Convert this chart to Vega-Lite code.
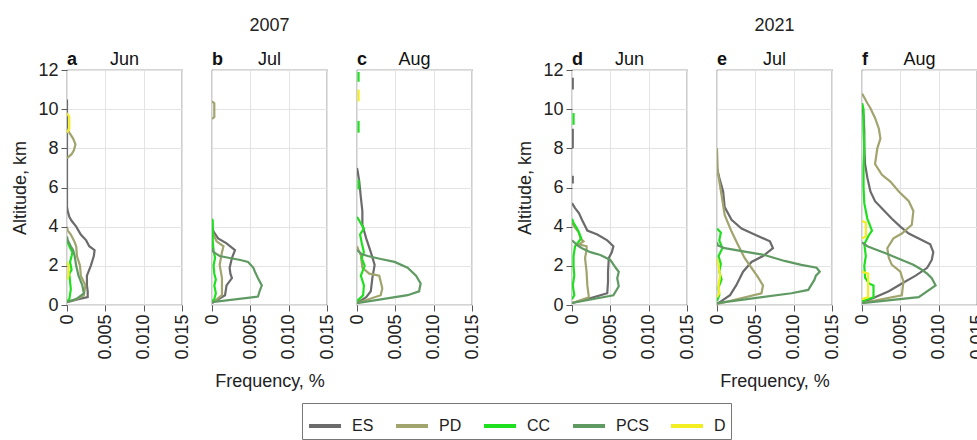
{
  "$schema": "https://vega.github.io/schema/vega-lite/v6.json",
  "padding": {"left": 11, "top": 16, "right": 0, "bottom": 0},
  "datasets": {
    "prof": [
      {"p":"a","c":"ES","s":1,"h":0.15,"f":0},{"p":"a","c":"ES","s":1,"h":0.3,"f":0.0015},{"p":"a","c":"ES","s":1,"h":0.4,"f":0.0027},{"p":"a","c":"ES","s":1,"h":0.7,"f":0.0027},{"p":"a","c":"ES","s":1,"h":1.0,"f":0.0026},{"p":"a","c":"ES","s":1,"h":1.5,"f":0.0026},{"p":"a","c":"ES","s":1,"h":2.0,"f":0.0031},{"p":"a","c":"ES","s":1,"h":2.5,"f":0.0035},{"p":"a","c":"ES","s":1,"h":2.8,"f":0.0036},{"p":"a","c":"ES","s":1,"h":3.0,"f":0.0029},{"p":"a","c":"ES","s":1,"h":3.3,"f":0.0025},{"p":"a","c":"ES","s":1,"h":3.6,"f":0.0018},{"p":"a","c":"ES","s":1,"h":4.0,"f":0.0012},{"p":"a","c":"ES","s":1,"h":4.3,"f":0.0006},{"p":"a","c":"ES","s":1,"h":4.5,"f":0.0003},{"p":"a","c":"ES","s":1,"h":4.8,"f":0.0001},{"p":"a","c":"ES","s":1,"h":5.0,"f":0},{"p":"a","c":"ES","s":1,"h":10.5,"f":0},
      {"p":"a","c":"PD","s":1,"h":0.15,"f":0},{"p":"a","c":"PD","s":1,"h":0.3,"f":0.0012},{"p":"a","c":"PD","s":1,"h":0.5,"f":0.0022},{"p":"a","c":"PD","s":1,"h":1.0,"f":0.0024},{"p":"a","c":"PD","s":1,"h":1.5,"f":0.0018},{"p":"a","c":"PD","s":1,"h":2.0,"f":0.0017},{"p":"a","c":"PD","s":1,"h":2.5,"f":0.0013},{"p":"a","c":"PD","s":1,"h":3.0,"f":0.0012},{"p":"a","c":"PD","s":1,"h":3.3,"f":0.0009},{"p":"a","c":"PD","s":1,"h":3.6,"f":0.0005},{"p":"a","c":"PD","s":1,"h":3.8,"f":0.0001},{"p":"a","c":"PD","s":1,"h":4.0,"f":0},
      {"p":"a","c":"PD","s":2,"h":7.5,"f":0},{"p":"a","c":"PD","s":2,"h":7.7,"f":0.0006},{"p":"a","c":"PD","s":2,"h":7.9,"f":0.0009},{"p":"a","c":"PD","s":2,"h":8.2,"f":0.0011},{"p":"a","c":"PD","s":2,"h":8.5,"f":0.0008},{"p":"a","c":"PD","s":2,"h":8.8,"f":0.0003},{"p":"a","c":"PD","s":2,"h":9.0,"f":0},
      {"p":"a","c":"CC","s":1,"h":0.2,"f":0},{"p":"a","c":"CC","s":1,"h":0.3,"f":0.0003},{"p":"a","c":"CC","s":1,"h":0.8,"f":0.0005},{"p":"a","c":"CC","s":1,"h":1.2,"f":0.0004},{"p":"a","c":"CC","s":1,"h":1.6,"f":0.0003},{"p":"a","c":"CC","s":1,"h":1.8,"f":0.0006},{"p":"a","c":"CC","s":1,"h":2.2,"f":0.0004},{"p":"a","c":"CC","s":1,"h":2.5,"f":0.0006},{"p":"a","c":"CC","s":1,"h":2.7,"f":0.0007},{"p":"a","c":"CC","s":1,"h":3.0,"f":0.0003},{"p":"a","c":"CC","s":1,"h":3.3,"f":0},
      {"p":"a","c":"PCS","s":1,"h":0.15,"f":0},{"p":"a","c":"PCS","s":1,"h":0.3,"f":0.0012},{"p":"a","c":"PCS","s":1,"h":0.6,"f":0.0022},{"p":"a","c":"PCS","s":1,"h":1.0,"f":0.002},{"p":"a","c":"PCS","s":1,"h":1.5,"f":0.0015},{"p":"a","c":"PCS","s":1,"h":2.0,"f":0.0012},{"p":"a","c":"PCS","s":1,"h":2.5,"f":0.001},{"p":"a","c":"PCS","s":1,"h":2.8,"f":0.0008},{"p":"a","c":"PCS","s":1,"h":3.0,"f":0.0005},{"p":"a","c":"PCS","s":1,"h":3.3,"f":0.0001},{"p":"a","c":"PCS","s":1,"h":3.5,"f":0},
      {"p":"a","c":"D","s":1,"h":1.3,"f":0},{"p":"a","c":"D","s":1,"h":1.5,"f":0.0002},{"p":"a","c":"D","s":1,"h":2.0,"f":0.0002},{"p":"a","c":"D","s":1,"h":2.2,"f":0},
      {"p":"a","c":"D","s":2,"h":8.8,"f":0},{"p":"a","c":"D","s":2,"h":9.0,"f":0.0003},{"p":"a","c":"D","s":2,"h":9.6,"f":0.0003},{"p":"a","c":"D","s":2,"h":9.8,"f":0},

      {"p":"b","c":"ES","s":1,"h":0.1,"f":0},{"p":"b","c":"ES","s":1,"h":0.5,"f":0.0017},{"p":"b","c":"ES","s":1,"h":1.0,"f":0.0019},{"p":"b","c":"ES","s":1,"h":1.37,"f":0.0026},{"p":"b","c":"ES","s":1,"h":1.6,"f":0.0024},{"p":"b","c":"ES","s":1,"h":1.9,"f":0.0023},{"p":"b","c":"ES","s":1,"h":2.4,"f":0.0026},{"p":"b","c":"ES","s":1,"h":2.8,"f":0.003},{"p":"b","c":"ES","s":1,"h":3.15,"f":0.0019},{"p":"b","c":"ES","s":1,"h":3.4,"f":0.0008},{"p":"b","c":"ES","s":1,"h":3.75,"f":0.0002},{"p":"b","c":"ES","s":1,"h":4.0,"f":0},
      {"p":"b","c":"PD","s":1,"h":0.1,"f":0},{"p":"b","c":"PD","s":1,"h":0.5,"f":0.0013},{"p":"b","c":"PD","s":1,"h":1.0,"f":0.0013},{"p":"b","c":"PD","s":1,"h":1.37,"f":0.0013},{"p":"b","c":"PD","s":1,"h":2.05,"f":0.001},{"p":"b","c":"PD","s":1,"h":2.7,"f":0.0013},{"p":"b","c":"PD","s":1,"h":3.0,"f":0.0015},{"p":"b","c":"PD","s":1,"h":3.25,"f":0.0006},{"p":"b","c":"PD","s":1,"h":3.6,"f":0.0002},{"p":"b","c":"PD","s":1,"h":3.8,"f":0},
      {"p":"b","c":"PD","s":2,"h":9.5,"f":0},{"p":"b","c":"PD","s":2,"h":9.6,"f":0.0003},{"p":"b","c":"PD","s":2,"h":10.3,"f":0.0003},{"p":"b","c":"PD","s":2,"h":10.4,"f":0},
      {"p":"b","c":"CC","s":1,"h":0.2,"f":0},{"p":"b","c":"CC","s":1,"h":0.3,"f":0.0003},{"p":"b","c":"CC","s":1,"h":0.6,"f":0.0005},{"p":"b","c":"CC","s":1,"h":1.0,"f":0.0003},{"p":"b","c":"CC","s":1,"h":1.3,"f":0.0005},{"p":"b","c":"CC","s":1,"h":1.6,"f":0.0003},{"p":"b","c":"CC","s":1,"h":2.0,"f":0.0002},{"p":"b","c":"CC","s":1,"h":2.4,"f":0.0004},{"p":"b","c":"CC","s":1,"h":2.8,"f":0.0002},{"p":"b","c":"CC","s":1,"h":3.2,"f":0.0001},{"p":"b","c":"CC","s":1,"h":4.3,"f":0.0001},{"p":"b","c":"CC","s":1,"h":4.4,"f":0},
      {"p":"b","c":"PCS","s":1,"h":0.15,"f":0},{"p":"b","c":"PCS","s":1,"h":0.43,"f":0.006},{"p":"b","c":"PCS","s":1,"h":0.7,"f":0.0062},{"p":"b","c":"PCS","s":1,"h":1.0,"f":0.0065},{"p":"b","c":"PCS","s":1,"h":1.37,"f":0.006},{"p":"b","c":"PCS","s":1,"h":1.7,"f":0.0056},{"p":"b","c":"PCS","s":1,"h":1.9,"f":0.0054},{"p":"b","c":"PCS","s":1,"h":2.2,"f":0.0047},{"p":"b","c":"PCS","s":1,"h":2.3,"f":0.0037},{"p":"b","c":"PCS","s":1,"h":2.4,"f":0.0023},{"p":"b","c":"PCS","s":1,"h":2.5,"f":0.001},{"p":"b","c":"PCS","s":1,"h":2.7,"f":0.0002},{"p":"b","c":"PCS","s":1,"h":2.9,"f":0},

      {"p":"c","c":"ES","s":1,"h":0.1,"f":0},{"p":"c","c":"ES","s":1,"h":0.4,"f":0.0012},{"p":"c","c":"ES","s":1,"h":0.7,"f":0.0018},{"p":"c","c":"ES","s":1,"h":1.37,"f":0.002},{"p":"c","c":"ES","s":1,"h":2.05,"f":0.0023},{"p":"c","c":"ES","s":1,"h":2.7,"f":0.0018},{"p":"c","c":"ES","s":1,"h":3.4,"f":0.0012},{"p":"c","c":"ES","s":1,"h":4.1,"f":0.0007},{"p":"c","c":"ES","s":1,"h":4.8,"f":0.0007},{"p":"c","c":"ES","s":1,"h":5.5,"f":0.0005},{"p":"c","c":"ES","s":1,"h":6.3,"f":0.0003},{"p":"c","c":"ES","s":1,"h":6.8,"f":0.0001},{"p":"c","c":"ES","s":1,"h":7.0,"f":0},
      {"p":"c","c":"PD","s":1,"h":0.1,"f":0},{"p":"c","c":"PD","s":1,"h":0.5,"f":0.0031},{"p":"c","c":"PD","s":1,"h":0.85,"f":0.0033},{"p":"c","c":"PD","s":1,"h":1.5,"f":0.0029},{"p":"c","c":"PD","s":1,"h":1.6,"f":0.0016},{"p":"c","c":"PD","s":1,"h":1.9,"f":0.0007},{"p":"c","c":"PD","s":1,"h":2.55,"f":0.0005},{"p":"c","c":"PD","s":1,"h":2.8,"f":0.0002},{"p":"c","c":"PD","s":1,"h":3.0,"f":0},
      {"p":"c","c":"CC","s":1,"h":0.2,"f":0},{"p":"c","c":"CC","s":1,"h":0.5,"f":0.0008},{"p":"c","c":"CC","s":1,"h":1.0,"f":0.0009},{"p":"c","c":"CC","s":1,"h":1.5,"f":0.0005},{"p":"c","c":"CC","s":1,"h":2.0,"f":0.001},{"p":"c","c":"CC","s":1,"h":2.4,"f":0.0006},{"p":"c","c":"CC","s":1,"h":2.7,"f":0.0009},{"p":"c","c":"CC","s":1,"h":3.2,"f":0.0006},{"p":"c","c":"CC","s":1,"h":3.6,"f":0.0004},{"p":"c","c":"CC","s":1,"h":3.9,"f":0.0009},{"p":"c","c":"CC","s":1,"h":4.3,"f":0.0003},{"p":"c","c":"CC","s":1,"h":4.5,"f":0},
      {"p":"c","c":"CC","s":2,"h":5.9,"f":0.0002},{"p":"c","c":"CC","s":2,"h":6.4,"f":0.0002},
      {"p":"c","c":"CC","s":3,"h":8.8,"f":0.0002},{"p":"c","c":"CC","s":3,"h":9.4,"f":0.0002},
      {"p":"c","c":"CC","s":4,"h":11.4,"f":0.0002},{"p":"c","c":"CC","s":4,"h":11.9,"f":0.0002},
      {"p":"c","c":"PCS","s":1,"h":0.1,"f":0},{"p":"c","c":"PCS","s":1,"h":0.5,"f":0.0066},{"p":"c","c":"PCS","s":1,"h":0.7,"f":0.0081},{"p":"c","c":"PCS","s":1,"h":1.1,"f":0.0083},{"p":"c","c":"PCS","s":1,"h":1.5,"f":0.0077},{"p":"c","c":"PCS","s":1,"h":1.9,"f":0.0066},{"p":"c","c":"PCS","s":1,"h":2.2,"f":0.0049},{"p":"c","c":"PCS","s":1,"h":2.35,"f":0.0031},{"p":"c","c":"PCS","s":1,"h":2.5,"f":0.0014},{"p":"c","c":"PCS","s":1,"h":2.6,"f":0.0006},{"p":"c","c":"PCS","s":1,"h":2.8,"f":0},
      {"p":"c","c":"D","s":1,"h":10.4,"f":0.0002},{"p":"c","c":"D","s":1,"h":11.0,"f":0.0002},

      {"p":"d","c":"ES","s":1,"h":0.1,"f":0},{"p":"d","c":"ES","s":1,"h":0.3,"f":0.002},{"p":"d","c":"ES","s":1,"h":0.6,"f":0.0046},{"p":"d","c":"ES","s":1,"h":1.2,"f":0.0047},{"p":"d","c":"ES","s":1,"h":1.7,"f":0.0047},{"p":"d","c":"ES","s":1,"h":2.4,"f":0.0048},{"p":"d","c":"ES","s":1,"h":2.7,"f":0.0052},{"p":"d","c":"ES","s":1,"h":3.0,"f":0.0054},{"p":"d","c":"ES","s":1,"h":3.3,"f":0.0046},{"p":"d","c":"ES","s":1,"h":3.6,"f":0.0033},{"p":"d","c":"ES","s":1,"h":3.8,"f":0.002},{"p":"d","c":"ES","s":1,"h":4.35,"f":0.0013},{"p":"d","c":"ES","s":1,"h":4.7,"f":0.0009},{"p":"d","c":"ES","s":1,"h":4.95,"f":0.0004},{"p":"d","c":"ES","s":1,"h":5.2,"f":0},
      {"p":"d","c":"ES","s":2,"h":6.2,"f":0.0001},{"p":"d","c":"ES","s":2,"h":6.6,"f":0.0001},
      {"p":"d","c":"ES","s":3,"h":8.0,"f":0.0001},{"p":"d","c":"ES","s":3,"h":9.0,"f":0.0001},
      {"p":"d","c":"ES","s":4,"h":11.0,"f":0.0001},{"p":"d","c":"ES","s":4,"h":11.6,"f":0.0001},
      {"p":"d","c":"PD","s":1,"h":0.1,"f":0},{"p":"d","c":"PD","s":1,"h":0.4,"f":0.0022},{"p":"d","c":"PD","s":1,"h":1.0,"f":0.002},{"p":"d","c":"PD","s":1,"h":1.7,"f":0.0019},{"p":"d","c":"PD","s":1,"h":2.4,"f":0.0017},{"p":"d","c":"PD","s":1,"h":2.8,"f":0.0019},{"p":"d","c":"PD","s":1,"h":3.0,"f":0.0019},{"p":"d","c":"PD","s":1,"h":3.1,"f":0.0009},{"p":"d","c":"PD","s":1,"h":3.25,"f":0.0015},{"p":"d","c":"PD","s":1,"h":3.4,"f":0.0011},{"p":"d","c":"PD","s":1,"h":3.7,"f":0.0009},{"p":"d","c":"PD","s":1,"h":4.0,"f":0.0003},{"p":"d","c":"PD","s":1,"h":4.2,"f":0},
      {"p":"d","c":"CC","s":1,"h":0.3,"f":0},{"p":"d","c":"CC","s":1,"h":0.5,"f":0.0003},{"p":"d","c":"CC","s":1,"h":1.0,"f":0.0001},{"p":"d","c":"CC","s":1,"h":1.5,"f":0.0003},{"p":"d","c":"CC","s":1,"h":2.0,"f":0.0002},{"p":"d","c":"CC","s":1,"h":2.5,"f":0.0002},{"p":"d","c":"CC","s":1,"h":3.0,"f":0.0004},{"p":"d","c":"CC","s":1,"h":3.4,"f":0.0012},{"p":"d","c":"CC","s":1,"h":3.8,"f":0.0008},{"p":"d","c":"CC","s":1,"h":4.2,"f":0.0002},{"p":"d","c":"CC","s":1,"h":4.4,"f":0},
      {"p":"d","c":"CC","s":2,"h":9.2,"f":0.0002},{"p":"d","c":"CC","s":2,"h":9.8,"f":0.0002},
      {"p":"d","c":"PCS","s":1,"h":0.1,"f":0},{"p":"d","c":"PCS","s":1,"h":0.5,"f":0.0054},{"p":"d","c":"PCS","s":1,"h":0.95,"f":0.0061},{"p":"d","c":"PCS","s":1,"h":1.37,"f":0.0059},{"p":"d","c":"PCS","s":1,"h":1.7,"f":0.0061},{"p":"d","c":"PCS","s":1,"h":1.9,"f":0.0057},{"p":"d","c":"PCS","s":1,"h":2.3,"f":0.005},{"p":"d","c":"PCS","s":1,"h":2.55,"f":0.0037},{"p":"d","c":"PCS","s":1,"h":2.7,"f":0.0024},{"p":"d","c":"PCS","s":1,"h":2.9,"f":0.0013},{"p":"d","c":"PCS","s":1,"h":3.05,"f":0.0007},{"p":"d","c":"PCS","s":1,"h":3.3,"f":0},

      {"p":"e","c":"ES","s":1,"h":0.05,"f":0},{"p":"e","c":"ES","s":1,"h":0.5,"f":0.0017},{"p":"e","c":"ES","s":1,"h":1.0,"f":0.0025},{"p":"e","c":"ES","s":1,"h":1.7,"f":0.0034},{"p":"e","c":"ES","s":1,"h":2.2,"f":0.0045},{"p":"e","c":"ES","s":1,"h":2.5,"f":0.006},{"p":"e","c":"ES","s":1,"h":2.9,"f":0.0073},{"p":"e","c":"ES","s":1,"h":3.25,"f":0.0069},{"p":"e","c":"ES","s":1,"h":3.6,"f":0.0049},{"p":"e","c":"ES","s":1,"h":3.9,"f":0.0032},{"p":"e","c":"ES","s":1,"h":4.35,"f":0.0019},{"p":"e","c":"ES","s":1,"h":5.0,"f":0.001},{"p":"e","c":"ES","s":1,"h":5.8,"f":0.0008},{"p":"e","c":"ES","s":1,"h":6.5,"f":0.0003},{"p":"e","c":"ES","s":1,"h":7.0,"f":0},
      {"p":"e","c":"PD","s":1,"h":0.05,"f":0},{"p":"e","c":"PD","s":1,"h":0.6,"f":0.0058},{"p":"e","c":"PD","s":1,"h":1.0,"f":0.006},{"p":"e","c":"PD","s":1,"h":1.45,"f":0.0053},{"p":"e","c":"PD","s":1,"h":1.9,"f":0.0045},{"p":"e","c":"PD","s":1,"h":2.4,"f":0.0036},{"p":"e","c":"PD","s":1,"h":3.1,"f":0.0027},{"p":"e","c":"PD","s":1,"h":3.75,"f":0.0019},{"p":"e","c":"PD","s":1,"h":4.6,"f":0.001},{"p":"e","c":"PD","s":1,"h":5.6,"f":0.0006},{"p":"e","c":"PD","s":1,"h":6.8,"f":0.0001},{"p":"e","c":"PD","s":1,"h":8.0,"f":0},
      {"p":"e","c":"CC","s":1,"h":0.2,"f":0},{"p":"e","c":"CC","s":1,"h":0.5,"f":0.0003},{"p":"e","c":"CC","s":1,"h":0.9,"f":0.0002},{"p":"e","c":"CC","s":1,"h":1.3,"f":0.0006},{"p":"e","c":"CC","s":1,"h":1.7,"f":0.0003},{"p":"e","c":"CC","s":1,"h":2.1,"f":0.0005},{"p":"e","c":"CC","s":1,"h":2.5,"f":0.0002},{"p":"e","c":"CC","s":1,"h":2.9,"f":0.0007},{"p":"e","c":"CC","s":1,"h":3.3,"f":0.0003},{"p":"e","c":"CC","s":1,"h":3.7,"f":0.0005},{"p":"e","c":"CC","s":1,"h":3.9,"f":0},
      {"p":"e","c":"PCS","s":1,"h":0.1,"f":0},{"p":"e","c":"PCS","s":1,"h":0.6,"f":0.0097},{"p":"e","c":"PCS","s":1,"h":0.77,"f":0.0119},{"p":"e","c":"PCS","s":1,"h":1.28,"f":0.0127},{"p":"e","c":"PCS","s":1,"h":1.5,"f":0.0129},{"p":"e","c":"PCS","s":1,"h":1.7,"f":0.0134},{"p":"e","c":"PCS","s":1,"h":1.9,"f":0.013},{"p":"e","c":"PCS","s":1,"h":2.05,"f":0.011},{"p":"e","c":"PCS","s":1,"h":2.25,"f":0.0088},{"p":"e","c":"PCS","s":1,"h":2.55,"f":0.0062},{"p":"e","c":"PCS","s":1,"h":2.7,"f":0.004},{"p":"e","c":"PCS","s":1,"h":2.9,"f":0.001},{"p":"e","c":"PCS","s":1,"h":3.05,"f":0.0001},{"p":"e","c":"PCS","s":1,"h":3.2,"f":0},
      {"p":"e","c":"D","s":1,"h":0.4,"f":0},{"p":"e","c":"D","s":1,"h":0.6,"f":0.0003},{"p":"e","c":"D","s":1,"h":1.0,"f":0.0002},{"p":"e","c":"D","s":1,"h":1.5,"f":0.0004},{"p":"e","c":"D","s":1,"h":2.0,"f":0.0002},{"p":"e","c":"D","s":1,"h":2.4,"f":0},

      {"p":"f","c":"ES","s":1,"h":0.1,"f":0},{"p":"f","c":"ES","s":1,"h":0.4,"f":0.0017},{"p":"f","c":"ES","s":1,"h":0.7,"f":0.0035},{"p":"f","c":"ES","s":1,"h":1.1,"f":0.0052},{"p":"f","c":"ES","s":1,"h":1.5,"f":0.007},{"p":"f","c":"ES","s":1,"h":1.9,"f":0.0085},{"p":"f","c":"ES","s":1,"h":2.3,"f":0.0091},{"p":"f","c":"ES","s":1,"h":2.7,"f":0.0093},{"p":"f","c":"ES","s":1,"h":3.1,"f":0.0089},{"p":"f","c":"ES","s":1,"h":3.4,"f":0.0074},{"p":"f","c":"ES","s":1,"h":3.65,"f":0.0061},{"p":"f","c":"ES","s":1,"h":4.0,"f":0.005},{"p":"f","c":"ES","s":1,"h":4.4,"f":0.0039},{"p":"f","c":"ES","s":1,"h":4.85,"f":0.0028},{"p":"f","c":"ES","s":1,"h":5.3,"f":0.0017},{"p":"f","c":"ES","s":1,"h":5.8,"f":0.0011},{"p":"f","c":"ES","s":1,"h":6.5,"f":0.0007},{"p":"f","c":"ES","s":1,"h":7.2,"f":0.0004},{"p":"f","c":"ES","s":1,"h":8.0,"f":0.0003},{"p":"f","c":"ES","s":1,"h":8.9,"f":0.0003},{"p":"f","c":"ES","s":1,"h":9.7,"f":0.0002},{"p":"f","c":"ES","s":1,"h":10.3,"f":0},
      {"p":"f","c":"PD","s":1,"h":0.1,"f":0},{"p":"f","c":"PD","s":1,"h":0.5,"f":0.0052},{"p":"f","c":"PD","s":1,"h":1.2,"f":0.0054},{"p":"f","c":"PD","s":1,"h":1.7,"f":0.005},{"p":"f","c":"PD","s":1,"h":2.05,"f":0.0039},{"p":"f","c":"PD","s":1,"h":2.4,"f":0.0035},{"p":"f","c":"PD","s":1,"h":2.9,"f":0.0033},{"p":"f","c":"PD","s":1,"h":3.4,"f":0.0041},{"p":"f","c":"PD","s":1,"h":3.65,"f":0.0052},{"p":"f","c":"PD","s":1,"h":4.1,"f":0.0065},{"p":"f","c":"PD","s":1,"h":4.8,"f":0.0067},{"p":"f","c":"PD","s":1,"h":5.3,"f":0.0061},{"p":"f","c":"PD","s":1,"h":5.8,"f":0.0048},{"p":"f","c":"PD","s":1,"h":6.3,"f":0.0037},{"p":"f","c":"PD","s":1,"h":6.65,"f":0.0026},{"p":"f","c":"PD","s":1,"h":7.2,"f":0.0017},{"p":"f","c":"PD","s":1,"h":8.0,"f":0.002},{"p":"f","c":"PD","s":1,"h":8.5,"f":0.0024},{"p":"f","c":"PD","s":1,"h":9.0,"f":0.0022},{"p":"f","c":"PD","s":1,"h":9.55,"f":0.0017},{"p":"f","c":"PD","s":1,"h":10.05,"f":0.0011},{"p":"f","c":"PD","s":1,"h":10.3,"f":0.0007},{"p":"f","c":"PD","s":1,"h":10.6,"f":0.0003},{"p":"f","c":"PD","s":1,"h":10.8,"f":0},
      {"p":"f","c":"CC","s":1,"h":0.2,"f":0},{"p":"f","c":"CC","s":1,"h":0.4,"f":0.0015},{"p":"f","c":"CC","s":1,"h":1.0,"f":0.0015},{"p":"f","c":"CC","s":1,"h":1.1,"f":0.0009},{"p":"f","c":"CC","s":1,"h":1.4,"f":0.0004},{"p":"f","c":"CC","s":1,"h":2.0,"f":0.0003},{"p":"f","c":"CC","s":1,"h":2.5,"f":0.0005},{"p":"f","c":"CC","s":1,"h":3.1,"f":0.0003},{"p":"f","c":"CC","s":1,"h":3.5,"f":0.0008},{"p":"f","c":"CC","s":1,"h":3.8,"f":0.0013},{"p":"f","c":"CC","s":1,"h":4.1,"f":0.001},{"p":"f","c":"CC","s":1,"h":4.4,"f":0.0007},{"p":"f","c":"CC","s":1,"h":4.8,"f":0.0005},{"p":"f","c":"CC","s":1,"h":5.2,"f":0.0003},{"p":"f","c":"CC","s":1,"h":6.0,"f":0.0002},{"p":"f","c":"CC","s":1,"h":7.0,"f":0.0002},{"p":"f","c":"CC","s":1,"h":8.0,"f":0.0003},{"p":"f","c":"CC","s":1,"h":9.0,"f":0.0002},{"p":"f","c":"CC","s":1,"h":10.0,"f":0.0002},{"p":"f","c":"CC","s":1,"h":10.3,"f":0},
      {"p":"f","c":"PCS","s":1,"h":0.1,"f":0},{"p":"f","c":"PCS","s":1,"h":0.4,"f":0.0074},{"p":"f","c":"PCS","s":1,"h":1.0,"f":0.0096},{"p":"f","c":"PCS","s":1,"h":1.37,"f":0.0091},{"p":"f","c":"PCS","s":1,"h":1.6,"f":0.0085},{"p":"f","c":"PCS","s":1,"h":1.8,"f":0.0078},{"p":"f","c":"PCS","s":1,"h":2.05,"f":0.0067},{"p":"f","c":"PCS","s":1,"h":2.3,"f":0.0052},{"p":"f","c":"PCS","s":1,"h":2.65,"f":0.003},{"p":"f","c":"PCS","s":1,"h":2.85,"f":0.0017},{"p":"f","c":"PCS","s":1,"h":3.0,"f":0.0007},{"p":"f","c":"PCS","s":1,"h":3.2,"f":0},
      {"p":"f","c":"D","s":1,"h":0.3,"f":0},{"p":"f","c":"D","s":1,"h":0.4,"f":0.0008},{"p":"f","c":"D","s":1,"h":1.6,"f":0.0008},{"p":"f","c":"D","s":1,"h":1.7,"f":0},
      {"p":"f","c":"D","s":2,"h":3.4,"f":0},{"p":"f","c":"D","s":2,"h":3.5,"f":0.0005},{"p":"f","c":"D","s":2,"h":4.2,"f":0.0005},{"p":"f","c":"D","s":2,"h":4.3,"f":0}
    ]
  },
  "data": {"name": "prof"},
  "hconcat": [
    {
      "hconcat": [
        {
          "width": 115, "height": 235,
          "layer": [
            {"transform": [{"filter": "datum.p == 'a'"}], "mark": {"type": "line", "strokeWidth": 2.2, "clip": true},
             "encoding": {
               "x": {"field": "f", "type": "quantitative", "scale": {"domain": [0, 0.015], "nice": false}, "axis": {"values": [0, 0.005, 0.01, 0.015], "title": null}},
               "y": {"field": "h", "type": "quantitative", "scale": {"domain": [0, 12], "nice": false}, "axis": {"values": [0, 2, 4, 6, 8, 10, 12], "format": "d", "title": "Altitude, km"}},
               "color": {"field": "c", "type": "nominal", "scale": {"domain": ["ES", "PD", "CC", "PCS", "D"], "range": ["#6b6b6b", "#a2a46e", "#1fe01f", "#5f9a62", "#f2ee22"]}, "legend": {"title": null}},
               "detail": {"field": "s"}, "order": {"field": "h", "type": "quantitative"}}},
            {"data": {"values": [{"t": "a", "m": "Jun"}]}, "mark": {"type": "text", "align": "left", "baseline": "alphabetic", "dy": -5, "fontWeight": "bold", "fontSize": 18}, "encoding": {"x": {"datum": 0}, "y": {"datum": 12}, "text": {"field": "t"}}},
            {"data": {"values": [{"t": "a", "m": "Jun"}]}, "mark": {"type": "text", "align": "center", "baseline": "alphabetic", "dy": -5, "fontSize": 18}, "encoding": {"x": {"datum": 0.0075}, "y": {"datum": 12}, "text": {"field": "m"}}}
          ]
        },
        {
          "width": 115, "height": 235,
          "title": {"text": "2007"},
          "layer": [
            {"transform": [{"filter": "datum.p == 'b'"}], "mark": {"type": "line", "strokeWidth": 2.2, "clip": true},
             "encoding": {
               "x": {"field": "f", "type": "quantitative", "scale": {"domain": [0, 0.015], "nice": false}, "axis": {"values": [0, 0.005, 0.01, 0.015], "title": "Frequency, %"}},
               "y": {"field": "h", "type": "quantitative", "scale": {"domain": [0, 12], "nice": false}, "axis": {"values": [0, 2, 4, 6, 8, 10, 12], "title": null, "labels": false, "ticks": false}},
               "color": {"field": "c", "type": "nominal", "scale": {"domain": ["ES", "PD", "CC", "PCS", "D"], "range": ["#6b6b6b", "#a2a46e", "#1fe01f", "#5f9a62", "#f2ee22"]}, "legend": {"title": null}},
               "detail": {"field": "s"}, "order": {"field": "h", "type": "quantitative"}}},
            {"data": {"values": [{"t": "b", "m": "Jul"}]}, "mark": {"type": "text", "align": "left", "baseline": "alphabetic", "dy": -5, "fontWeight": "bold", "fontSize": 18}, "encoding": {"x": {"datum": 0}, "y": {"datum": 12}, "text": {"field": "t"}}},
            {"data": {"values": [{"t": "b", "m": "Jul"}]}, "mark": {"type": "text", "align": "center", "baseline": "alphabetic", "dy": -5, "fontSize": 18}, "encoding": {"x": {"datum": 0.0075}, "y": {"datum": 12}, "text": {"field": "m"}}}
          ]
        },
        {
          "width": 115, "height": 235,
          "layer": [
            {"transform": [{"filter": "datum.p == 'c'"}], "mark": {"type": "line", "strokeWidth": 2.2, "clip": true},
             "encoding": {
               "x": {"field": "f", "type": "quantitative", "scale": {"domain": [0, 0.015], "nice": false}, "axis": {"values": [0, 0.005, 0.01, 0.015], "title": null}},
               "y": {"field": "h", "type": "quantitative", "scale": {"domain": [0, 12], "nice": false}, "axis": {"values": [0, 2, 4, 6, 8, 10, 12], "title": null, "labels": false, "ticks": false}},
               "color": {"field": "c", "type": "nominal", "scale": {"domain": ["ES", "PD", "CC", "PCS", "D"], "range": ["#6b6b6b", "#a2a46e", "#1fe01f", "#5f9a62", "#f2ee22"]}, "legend": {"title": null}},
               "detail": {"field": "s"}, "order": {"field": "h", "type": "quantitative"}}},
            {"data": {"values": [{"t": "c", "m": "Aug"}]}, "mark": {"type": "text", "align": "left", "baseline": "alphabetic", "dy": -5, "fontWeight": "bold", "fontSize": 18}, "encoding": {"x": {"datum": 0}, "y": {"datum": 12}, "text": {"field": "t"}}},
            {"data": {"values": [{"t": "c", "m": "Aug"}]}, "mark": {"type": "text", "align": "center", "baseline": "alphabetic", "dy": -5, "fontSize": 18}, "encoding": {"x": {"datum": 0.0075}, "y": {"datum": 12}, "text": {"field": "m"}}}
          ]
        }
      ]
    },
    {
      "hconcat": [
        {
          "width": 115, "height": 235,
          "layer": [
            {"transform": [{"filter": "datum.p == 'd'"}], "mark": {"type": "line", "strokeWidth": 2.2, "clip": true},
             "encoding": {
               "x": {"field": "f", "type": "quantitative", "scale": {"domain": [0, 0.015], "nice": false}, "axis": {"values": [0, 0.005, 0.01, 0.015], "title": null}},
               "y": {"field": "h", "type": "quantitative", "scale": {"domain": [0, 12], "nice": false}, "axis": {"values": [0, 2, 4, 6, 8, 10, 12], "format": "d", "title": "Altitude, km"}},
               "color": {"field": "c", "type": "nominal", "scale": {"domain": ["ES", "PD", "CC", "PCS", "D"], "range": ["#6b6b6b", "#a2a46e", "#1fe01f", "#5f9a62", "#f2ee22"]}, "legend": {"title": null}},
               "detail": {"field": "s"}, "order": {"field": "h", "type": "quantitative"}}},
            {"data": {"values": [{"t": "d", "m": "Jun"}]}, "mark": {"type": "text", "align": "left", "baseline": "alphabetic", "dy": -5, "fontWeight": "bold", "fontSize": 18}, "encoding": {"x": {"datum": 0}, "y": {"datum": 12}, "text": {"field": "t"}}},
            {"data": {"values": [{"t": "d", "m": "Jun"}]}, "mark": {"type": "text", "align": "center", "baseline": "alphabetic", "dy": -5, "fontSize": 18}, "encoding": {"x": {"datum": 0.0075}, "y": {"datum": 12}, "text": {"field": "m"}}}
          ]
        },
        {
          "width": 115, "height": 235,
          "title": {"text": "2021"},
          "layer": [
            {"transform": [{"filter": "datum.p == 'e'"}], "mark": {"type": "line", "strokeWidth": 2.2, "clip": true},
             "encoding": {
               "x": {"field": "f", "type": "quantitative", "scale": {"domain": [0, 0.015], "nice": false}, "axis": {"values": [0, 0.005, 0.01, 0.015], "title": "Frequency, %"}},
               "y": {"field": "h", "type": "quantitative", "scale": {"domain": [0, 12], "nice": false}, "axis": {"values": [0, 2, 4, 6, 8, 10, 12], "title": null, "labels": false, "ticks": false}},
               "color": {"field": "c", "type": "nominal", "scale": {"domain": ["ES", "PD", "CC", "PCS", "D"], "range": ["#6b6b6b", "#a2a46e", "#1fe01f", "#5f9a62", "#f2ee22"]}, "legend": {"title": null}},
               "detail": {"field": "s"}, "order": {"field": "h", "type": "quantitative"}}},
            {"data": {"values": [{"t": "e", "m": "Jul"}]}, "mark": {"type": "text", "align": "left", "baseline": "alphabetic", "dy": -5, "fontWeight": "bold", "fontSize": 18}, "encoding": {"x": {"datum": 0}, "y": {"datum": 12}, "text": {"field": "t"}}},
            {"data": {"values": [{"t": "e", "m": "Jul"}]}, "mark": {"type": "text", "align": "center", "baseline": "alphabetic", "dy": -5, "fontSize": 18}, "encoding": {"x": {"datum": 0.0075}, "y": {"datum": 12}, "text": {"field": "m"}}}
          ]
        },
        {
          "width": 115, "height": 235,
          "layer": [
            {"transform": [{"filter": "datum.p == 'f'"}], "mark": {"type": "line", "strokeWidth": 2.2, "clip": true},
             "encoding": {
               "x": {"field": "f", "type": "quantitative", "scale": {"domain": [0, 0.015], "nice": false}, "axis": {"values": [0, 0.005, 0.01, 0.015], "title": null}},
               "y": {"field": "h", "type": "quantitative", "scale": {"domain": [0, 12], "nice": false}, "axis": {"values": [0, 2, 4, 6, 8, 10, 12], "title": null, "labels": false, "ticks": false}},
               "color": {"field": "c", "type": "nominal", "scale": {"domain": ["ES", "PD", "CC", "PCS", "D"], "range": ["#6b6b6b", "#a2a46e", "#1fe01f", "#5f9a62", "#f2ee22"]}, "legend": {"title": null}},
               "detail": {"field": "s"}, "order": {"field": "h", "type": "quantitative"}}},
            {"data": {"values": [{"t": "f", "m": "Aug"}]}, "mark": {"type": "text", "align": "left", "baseline": "alphabetic", "dy": -5, "fontWeight": "bold", "fontSize": 18}, "encoding": {"x": {"datum": 0}, "y": {"datum": 12}, "text": {"field": "t"}}},
            {"data": {"values": [{"t": "f", "m": "Aug"}]}, "mark": {"type": "text", "align": "center", "baseline": "alphabetic", "dy": -5, "fontSize": 18}, "encoding": {"x": {"datum": 0.0075}, "y": {"datum": 12}, "text": {"field": "m"}}}
          ]
        }
      ]
    }
  ],
  "spacing": 34,
  "config": {
    "font": "Liberation Sans",
    "concat": {"spacing": 10},
    "view": {"stroke": "#5a5a5a", "strokeWidth": 1.2},
    "text": {"color": "#111"},
    "axis": {"grid": true, "gridColor": "#e4e4e4", "gridWidth": 1, "domain": false, "tickColor": "#5a5a5a", "tickSize": 6, "tickCount": 20, "labelOverlap": false, "labelFlush": false, "labelPadding": 3, "labelFontSize": 18, "labelColor": "#222", "titleFontSize": 18, "titleFontWeight": "normal", "titleColor": "#222", "titlePadding": 8},
    "axisX": {"labelAngle": 270, "labelExpr": "datum.value == 0 ? '0' : format(datum.value, '.3f')", "labelFontSize": 18, "titlePadding": 13},
    "title": {"fontSize": 18, "fontWeight": "normal", "color": "#222", "offset": 16, "anchor": "middle"},
    "legend": {"orient": "none", "legendX": 235, "legendY": 333, "direction": "horizontal", "symbolType": "stroke", "symbolSize": 1024, "symbolStrokeWidth": 4, "labelFontSize": 16, "labelColor": "#222", "labelOffset": 9, "columnPadding": 14, "strokeColor": "#777", "padding": 5}
  }
}
